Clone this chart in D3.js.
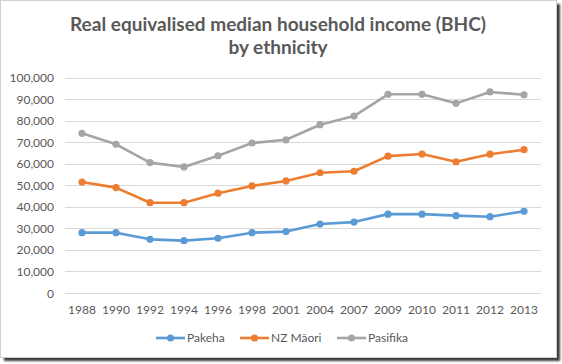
<!DOCTYPE html>
<html>
<head>
<meta charset="utf-8">
<script src="https://cdn.jsdelivr.net/npm/d3@7"></script>
<style>
  html, body { margin: 0; padding: 0; background: #ffffff; }
  svg { display: block; }
  text { font-family: Lato, "Open Sans", sans-serif; }
</style>
</head>
<body>
<svg id="chart" width="562" height="364"></svg>
<script>
const years = ["1988","1990","1992","1994","1996","1998","2001","2004","2007","2009","2010","2011","2012","2013"];
const pakeha   = [28000, 28000, 24900, 24300, 25400, 28000, 28500, 32000, 32900, 36600, 36600, 35900, 35400, 37900];
const maori    = [51500, 48900, 41900, 41900, 46300, 49700, 52000, 55800, 56500, 63500, 64500, 60900, 64400, 66500];
const pasifika = [74100, 69000, 60500, 58500, 63700, 69600, 71100, 78100, 82100, 92200, 92200, 88000, 93300, 92000];
const seriesNames = ["Pakeha", "NZ Māori", "Pasifika"];
const yTicks = [0, 10000, 20000, 30000, 40000, 50000, 60000, 70000, 80000, 90000, 100000];
const titleLines = ["Real equivalised median household income (BHC)", "by ethnicity"];

(function () {
const colors = ["#5b9bd5", "#ed7d31", "#a5a5a5"];
const seriesData = [pakeha, maori, pasifika];

const svg = d3.select("#chart");

// frame with shadow
const defs = svg.append("defs");
const f = defs.append("filter").attr("id", "blur").attr("x", "-5%").attr("y", "-5%").attr("width", "110%").attr("height", "110%");
f.append("feGaussianBlur").attr("stdDeviation", 1.2);
svg.append("rect").attr("x", 4).attr("y", 4).attr("width", 556).attr("height", 357)
  .attr("fill", "#3a3a3a").attr("filter", "url(#blur)");
svg.append("rect").attr("x", 0.5).attr("y", 0.5).attr("width", 556).attr("height", 357)
  .attr("fill", "#ffffff").attr("stroke", "#d0d0d0").attr("stroke-width", 1);

const pl = 65, pr = 541, pt = 77.5, pb = 293;

const x = d3.scaleBand().domain(years).range([pl, pr]);
const y = d3.scaleLinear().domain([0, 100000]).range([pb, pt]);

// gridlines
svg.append("g").selectAll("line").data(yTicks).join("line")
  .attr("x1", pl).attr("x2", pr)
  .attr("y1", d => Math.round(y(d)) + 0.5).attr("y2", d => Math.round(y(d)) + 0.5)
  .attr("stroke", "#d9d9d9").attr("stroke-width", 1);

// y axis
const fmt = d3.format(",");
const yAxis = svg.append("g").attr("transform", `translate(${pl},0)`)
  .call(d3.axisLeft(y).tickValues(yTicks).tickFormat(fmt).tickSize(0).tickPadding(11));
yAxis.select(".domain").remove();
yAxis.selectAll("text").attr("fill", "#595959").style("font-size", "12px").attr("dy", "0.34em");

// x axis
const xAxis = svg.append("g").attr("transform", `translate(0,${pb})`)
  .call(d3.axisBottom(x).tickSize(0).tickPadding(12));
xAxis.select(".domain").remove();
xAxis.selectAll("text").attr("fill", "#595959").style("font-size", "12px");

// lines
const line = d3.line().x((d, i) => x(years[i]) + x.bandwidth() / 2).y(d => y(d));
seriesData.forEach((data, k) => {
  const g = svg.append("g");
  g.append("path").datum(data).attr("d", line).attr("fill", "none")
    .attr("stroke", colors[k]).attr("stroke-width", 2.6).attr("stroke-linejoin", "round").attr("stroke-linecap", "round");
  g.selectAll("circle").data(data).join("circle")
    .attr("cx", (d, i) => x(years[i]) + x.bandwidth() / 2)
    .attr("cy", d => y(d))
    .attr("r", 3.6).attr("fill", colors[k]);
});

// title
const title = svg.append("text").attr("text-anchor", "middle").attr("fill", "#595959")
  .style("font-weight", "bold").style("font-size", "18.5px");
title.selectAll("tspan").data(titleLines).join("tspan")
  .attr("x", 278).attr("y", (d, i) => i === 0 ? 31 : 54).text(d => d);
const w0 = title.select("tspan").node().getComputedTextLength();
if (w0 > 0) title.style("font-size", (18.5 * 416 / w0).toFixed(2) + "px");

// legend
const legendItems = [
  { name: seriesNames[0], color: colors[0], x0: 156 },
  { name: seriesNames[1], color: colors[1], x0: 240 },
  { name: seriesNames[2], color: colors[2], x0: 337 }
];
const lg = svg.append("g");
legendItems.forEach(it => {
  lg.append("line").attr("x1", it.x0).attr("x2", it.x0 + 29).attr("y1", 338).attr("y2", 338)
    .attr("stroke", it.color).attr("stroke-width", 2.6);
  lg.append("circle").attr("cx", it.x0 + 14.5).attr("cy", 338).attr("r", 3.6).attr("fill", it.color);
  lg.append("text").attr("x", it.x0 + 31).attr("y", 338).attr("dy", "0.35em")
    .attr("fill", "#595959").style("font-size", "12px").text(it.name);
});
})();
</script>
</body>
</html>
